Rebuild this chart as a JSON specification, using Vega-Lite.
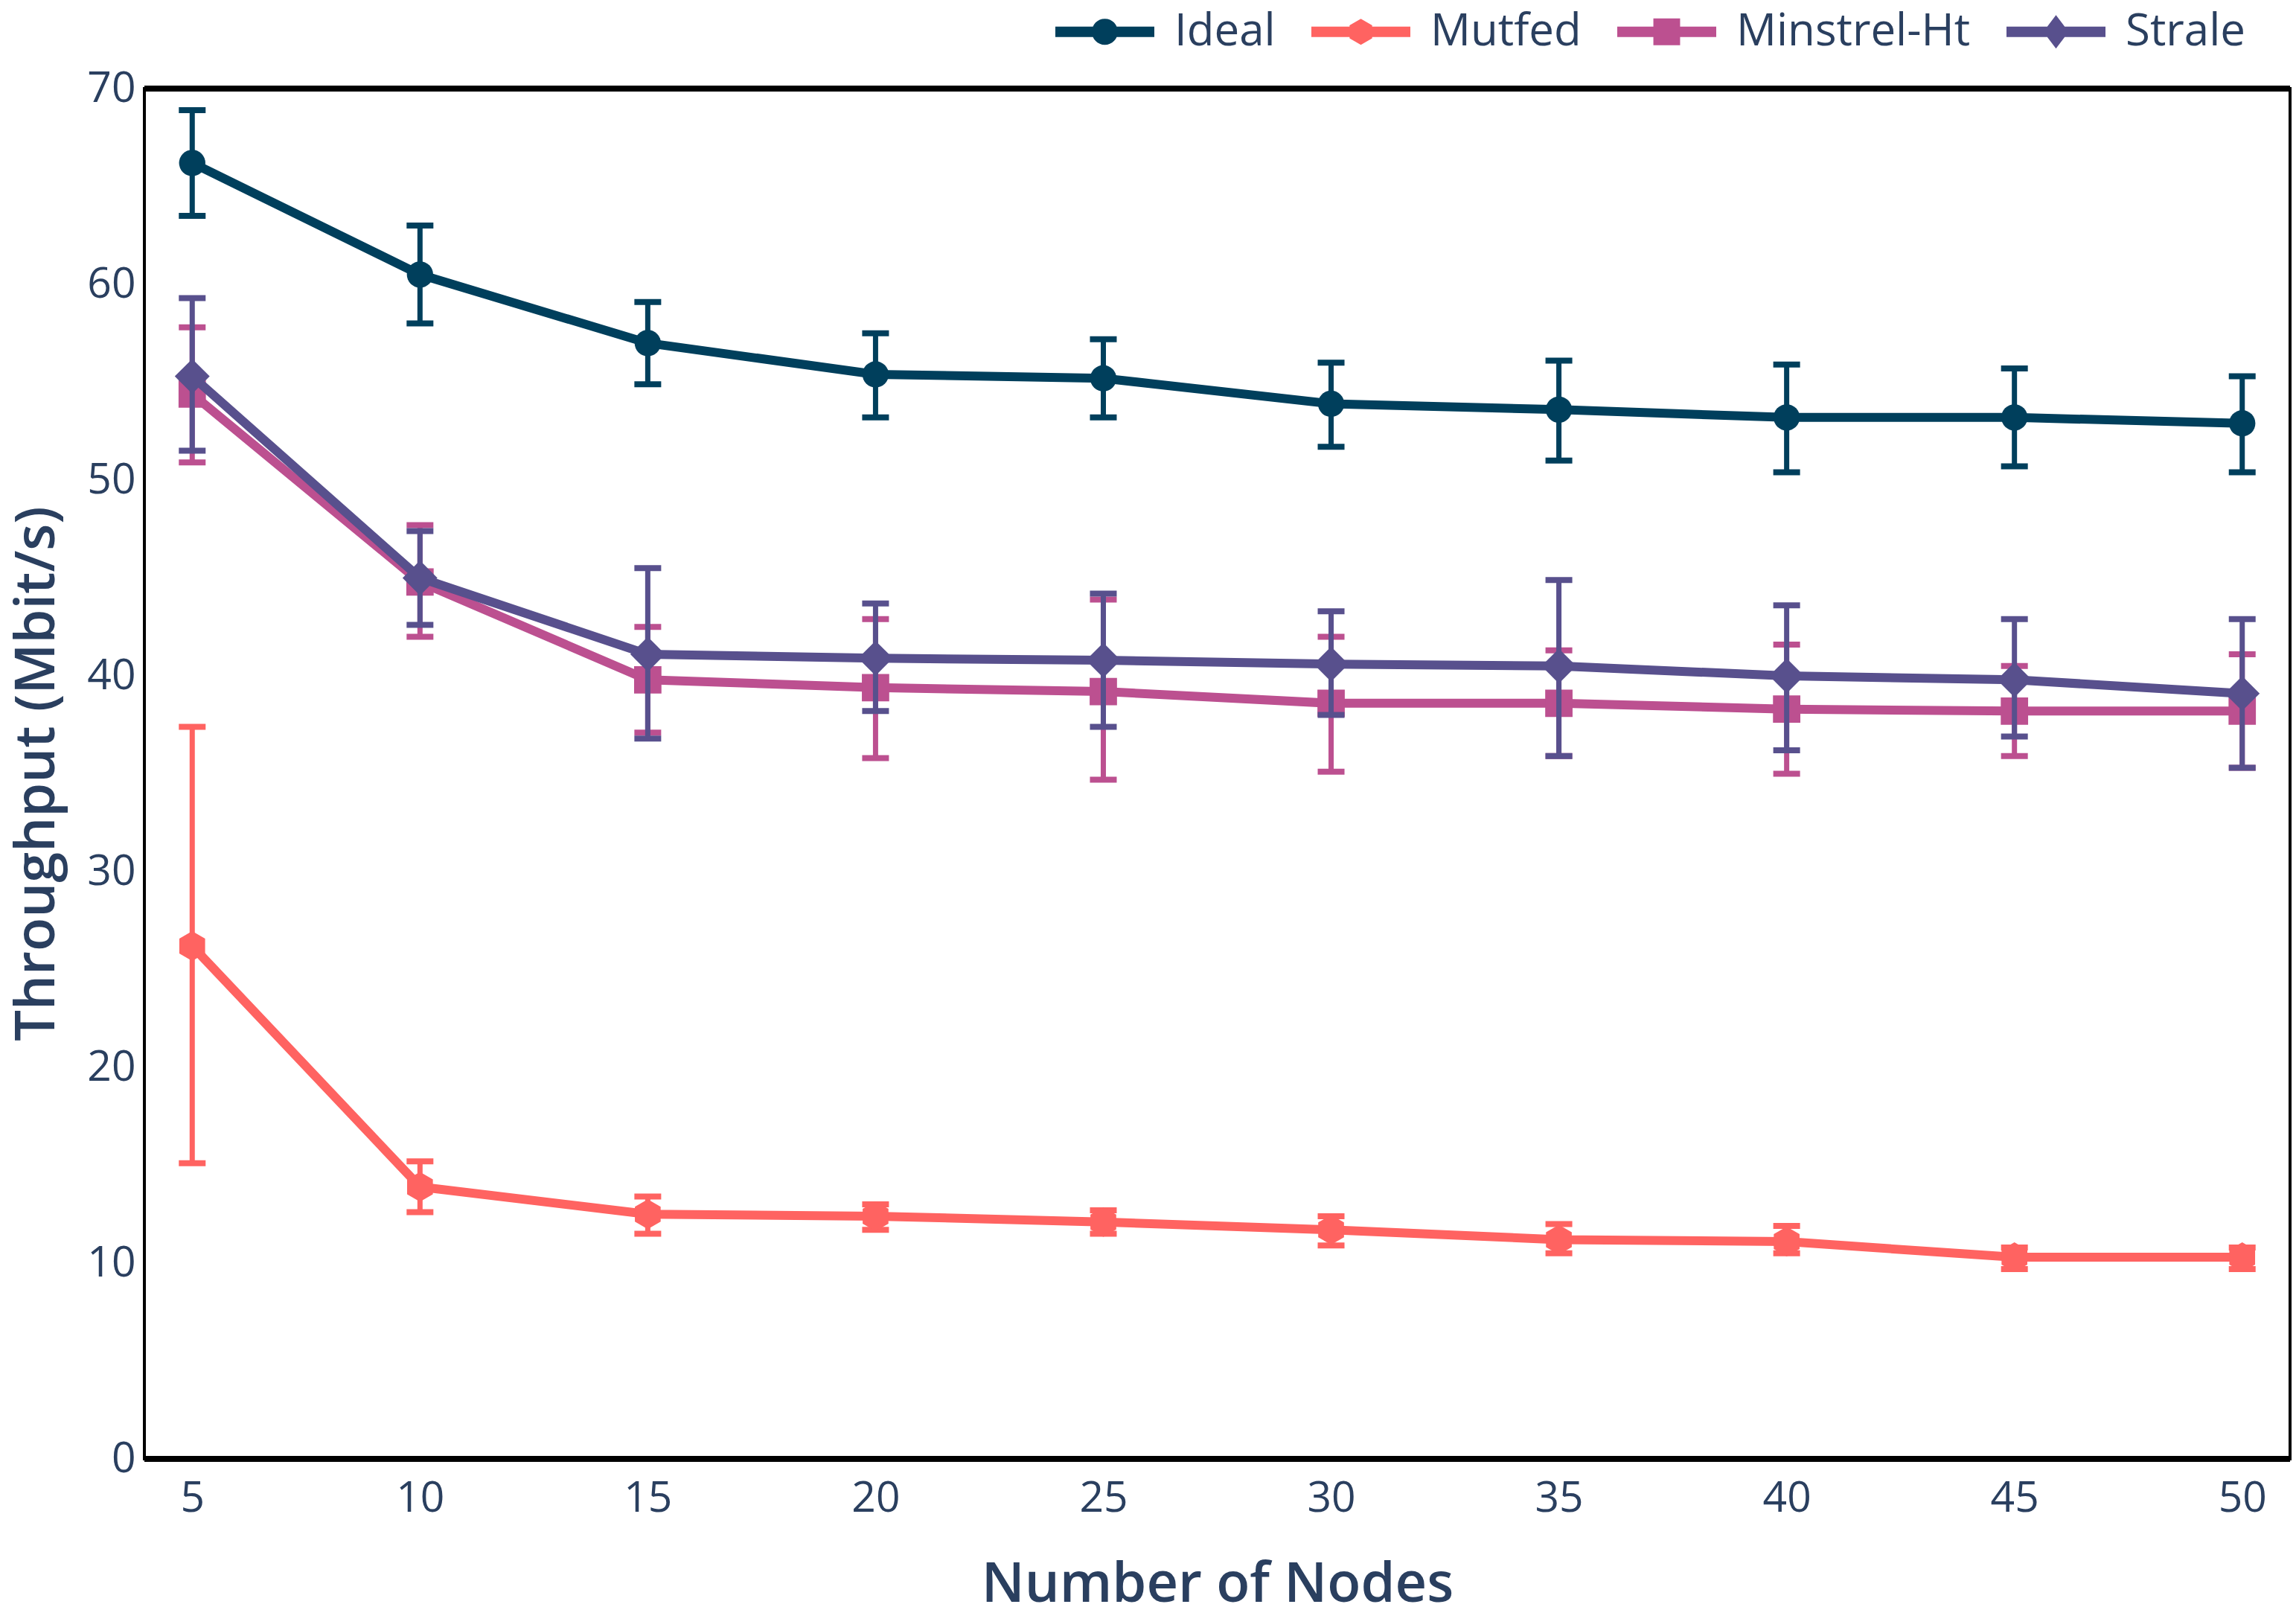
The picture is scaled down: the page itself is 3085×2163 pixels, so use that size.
{
  "$schema": "https://vega.github.io/schema/vega-lite/v6.json",
  "width": 2883,
  "height": 1841,
  "autosize": {"type": "none"},
  "padding": {"left": 194, "top": 119, "right": 8, "bottom": 203},
  "background": "white",
  "config": {
    "view": {"stroke": "black", "strokeWidth": 4},
    "axis": {"grid": false, "ticks": false, "tickSize": 0, "domain": false, "labelFont": "Open Sans", "labelColor": "#2a3f5f", "labelFontSize": 57, "titleFont": "Open Sans", "titleColor": "#2a3f5f", "titleFontSize": 74, "titleFontWeight": 600},
    "legend": {"padding": 0, "offset": 0}
  },
  "data": {"values": [
    {"series": "Ideal", "n": 5, "y": 66.2, "lo": 63.5, "hi": 68.9},
    {"series": "Ideal", "n": 10, "y": 60.5, "lo": 58.0, "hi": 63.0},
    {"series": "Ideal", "n": 15, "y": 57.0, "lo": 54.9, "hi": 59.1},
    {"series": "Ideal", "n": 20, "y": 55.4, "lo": 53.2, "hi": 57.5},
    {"series": "Ideal", "n": 25, "y": 55.2, "lo": 53.2, "hi": 57.2},
    {"series": "Ideal", "n": 30, "y": 53.9, "lo": 51.7, "hi": 56.0},
    {"series": "Ideal", "n": 35, "y": 53.6, "lo": 51.0, "hi": 56.1},
    {"series": "Ideal", "n": 40, "y": 53.2, "lo": 50.4, "hi": 55.9},
    {"series": "Ideal", "n": 45, "y": 53.2, "lo": 50.7, "hi": 55.7},
    {"series": "Ideal", "n": 50, "y": 52.9, "lo": 50.4, "hi": 55.3},
    {"series": "Mutfed", "n": 5, "y": 26.2, "lo": 15.1, "hi": 37.4},
    {"series": "Mutfed", "n": 10, "y": 13.9, "lo": 12.6, "hi": 15.2},
    {"series": "Mutfed", "n": 15, "y": 12.5, "lo": 11.5, "hi": 13.4},
    {"series": "Mutfed", "n": 20, "y": 12.4, "lo": 11.7, "hi": 13.0},
    {"series": "Mutfed", "n": 25, "y": 12.1, "lo": 11.5, "hi": 12.7},
    {"series": "Mutfed", "n": 30, "y": 11.7, "lo": 10.9, "hi": 12.4},
    {"series": "Mutfed", "n": 35, "y": 11.2, "lo": 10.5, "hi": 12.0},
    {"series": "Mutfed", "n": 40, "y": 11.1, "lo": 10.5, "hi": 11.9},
    {"series": "Mutfed", "n": 45, "y": 10.3, "lo": 9.7, "hi": 10.8},
    {"series": "Mutfed", "n": 50, "y": 10.3, "lo": 9.7, "hi": 10.8},
    {"series": "Minstrel-Ht", "n": 5, "y": 54.4, "lo": 50.9, "hi": 57.8},
    {"series": "Minstrel-Ht", "n": 10, "y": 44.8, "lo": 42.0, "hi": 47.7},
    {"series": "Minstrel-Ht", "n": 15, "y": 39.8, "lo": 37.1, "hi": 42.5},
    {"series": "Minstrel-Ht", "n": 20, "y": 39.4, "lo": 35.8, "hi": 42.9},
    {"series": "Minstrel-Ht", "n": 25, "y": 39.2, "lo": 34.7, "hi": 43.9},
    {"series": "Minstrel-Ht", "n": 30, "y": 38.6, "lo": 35.1, "hi": 42.0},
    {"series": "Minstrel-Ht", "n": 35, "y": 38.6, "lo": 35.9, "hi": 41.3},
    {"series": "Minstrel-Ht", "n": 40, "y": 38.3, "lo": 35.0, "hi": 41.6},
    {"series": "Minstrel-Ht", "n": 45, "y": 38.2, "lo": 35.9, "hi": 40.5},
    {"series": "Minstrel-Ht", "n": 50, "y": 38.2, "lo": 35.3, "hi": 41.1},
    {"series": "Strale", "n": 5, "y": 55.3, "lo": 51.5, "hi": 59.3},
    {"series": "Strale", "n": 10, "y": 45.0, "lo": 42.6, "hi": 47.4},
    {"series": "Strale", "n": 15, "y": 41.1, "lo": 36.8, "hi": 45.5},
    {"series": "Strale", "n": 20, "y": 40.9, "lo": 38.2, "hi": 43.7},
    {"series": "Strale", "n": 25, "y": 40.8, "lo": 37.4, "hi": 44.2},
    {"series": "Strale", "n": 30, "y": 40.6, "lo": 38.0, "hi": 43.3},
    {"series": "Strale", "n": 35, "y": 40.5, "lo": 35.9, "hi": 44.9},
    {"series": "Strale", "n": 40, "y": 40.0, "lo": 36.2, "hi": 43.6},
    {"series": "Strale", "n": 45, "y": 39.8, "lo": 36.9, "hi": 42.9},
    {"series": "Strale", "n": 50, "y": 39.1, "lo": 35.3, "hi": 42.9}
  ]},
  "encoding": {
    "color": {"field": "series", "type": "nominal",
      "scale": {"domain": ["Ideal", "Mutfed", "Minstrel-Ht", "Strale"], "range": ["#003f5c", "#ff6361", "#bc5090", "#58508d"]},
      "legend": {"orient": "none", "legendX": 1224, "legendY": -143, "direction": "horizontal", "title": null,
        "symbolSize": 17689, "symbolStrokeWidth": 0, "symbolOpacity": 1, "labelOffset": 27, "columnPadding": 48, "labelLimit": 600, "labelFont": "Open Sans", "labelFontSize": 60, "labelColor": "#2a3f5f"}}
  },
  "layer": [
    {"mark": {"type": "rule", "strokeWidth": 7}, "encoding": {"y": {"datum": 70, "type": "quantitative", "scale": {"domain": [0, 70], "nice": false},
      "axis": {"values": [0, 10, 20, 30, 40, 50, 60, 70], "title": "Throughput (Mbit/s)", "labelPadding": 12, "titleAngle": -90, "titleBaseline": "alphabetic", "titleAlign": "center", "titleX": -122, "titleY": 920}}, "color": {"value": "black"}}},
    {"mark": {"type": "rule", "strokeWidth": 7}, "encoding": {"y": {"datum": 0, "type": "quantitative"}, "color": {"value": "black"}}},
    {"mark": {"type": "point", "filled": true, "opacity": 0},
      "encoding": {
        "x": {"field": "n", "type": "quantitative", "scale": {"domain": [3.95, 51.05], "nice": false, "zero": false},
          "axis": {"values": [5, 10, 15, 20, 25, 30, 35, 40, 45, 50], "format": "d", "title": "Number of Nodes", "labelBaseline": "alphabetic", "labelPadding": 70, "titlePadding": 52}},
        "y": {"field": "y", "type": "quantitative"},
        "shape": {"field": "series", "type": "nominal", "legend": null, "scale": {"domain": ["Ideal", "Mutfed", "Minstrel-Ht", "Strale"],
          "range": ["M-1,-0.105H1V0.105H-1Z M0,-0.263A0.263,0.263 0 1,1 0,0.263A0.263,0.263 0 1,1 0,-0.263Z", "M-1,-0.105H1V0.105H-1Z M0,-0.263L0.228,-0.131L0.228,0.131L0,0.263L-0.228,0.131L-0.228,-0.131Z", "M-1,-0.105H1V0.105H-1Z M-0.27,-0.27H0.27V0.27H-0.27Z", "M-1,-0.105H1V0.105H-1Z M0,-0.338L0.256,0L0,0.338L-0.256,0Z"]}}
      }},
    {
      "transform": [{"filter": "datum.series === 'Ideal'"}],
      "encoding": {"x": {"field": "n", "type": "quantitative"}},
      "layer": [
        {"mark": {"type": "rule", "strokeWidth": 7}, "encoding": {"y": {"field": "lo", "type": "quantitative"}, "y2": {"field": "hi"}}},
        {"mark": {"type": "tick", "orient": "horizontal", "size": 36, "thickness": 8, "opacity": 1}, "encoding": {"y": {"field": "hi", "type": "quantitative"}}},
        {"mark": {"type": "tick", "orient": "horizontal", "size": 36, "thickness": 8, "opacity": 1}, "encoding": {"y": {"field": "lo", "type": "quantitative"}}},
        {"mark": {"type": "line", "strokeWidth": 12}, "encoding": {"y": {"field": "y", "type": "quantitative"}}},
        {"mark": {"type": "point", "filled": true, "opacity": 1, "shape": "circle", "size": 1250}, "encoding": {"y": {"field": "y", "type": "quantitative"}}}
      ]
    },
    {
      "transform": [{"filter": "datum.series === 'Mutfed'"}],
      "encoding": {"x": {"field": "n", "type": "quantitative"}},
      "layer": [
        {"mark": {"type": "rule", "strokeWidth": 7}, "encoding": {"y": {"field": "lo", "type": "quantitative"}, "y2": {"field": "hi"}}},
        {"mark": {"type": "tick", "orient": "horizontal", "size": 36, "thickness": 8, "opacity": 1}, "encoding": {"y": {"field": "hi", "type": "quantitative"}}},
        {"mark": {"type": "tick", "orient": "horizontal", "size": 36, "thickness": 8, "opacity": 1}, "encoding": {"y": {"field": "lo", "type": "quantitative"}}},
        {"mark": {"type": "line", "strokeWidth": 12}, "encoding": {"y": {"field": "y", "type": "quantitative"}}},
        {"mark": {"type": "point", "filled": true, "opacity": 1, "shape": "M0,-1L0.866,-0.5L0.866,0.5L0,1L-0.866,0.5L-0.866,-0.5Z", "size": 1600}, "encoding": {"y": {"field": "y", "type": "quantitative"}}}
      ]
    },
    {
      "transform": [{"filter": "datum.series === 'Minstrel-Ht'"}],
      "encoding": {"x": {"field": "n", "type": "quantitative"}},
      "layer": [
        {"mark": {"type": "rule", "strokeWidth": 7}, "encoding": {"y": {"field": "lo", "type": "quantitative"}, "y2": {"field": "hi"}}},
        {"mark": {"type": "tick", "orient": "horizontal", "size": 36, "thickness": 8, "opacity": 1}, "encoding": {"y": {"field": "hi", "type": "quantitative"}}},
        {"mark": {"type": "tick", "orient": "horizontal", "size": 36, "thickness": 8, "opacity": 1}, "encoding": {"y": {"field": "lo", "type": "quantitative"}}},
        {"mark": {"type": "line", "strokeWidth": 12}, "encoding": {"y": {"field": "y", "type": "quantitative"}}},
        {"mark": {"type": "point", "filled": true, "opacity": 1, "shape": "square", "size": 1350}, "encoding": {"y": {"field": "y", "type": "quantitative"}}}
      ]
    },
    {
      "transform": [{"filter": "datum.series === 'Strale'"}],
      "encoding": {"x": {"field": "n", "type": "quantitative"}},
      "layer": [
        {"mark": {"type": "rule", "strokeWidth": 7}, "encoding": {"y": {"field": "lo", "type": "quantitative"}, "y2": {"field": "hi"}}},
        {"mark": {"type": "tick", "orient": "horizontal", "size": 36, "thickness": 8, "opacity": 1}, "encoding": {"y": {"field": "hi", "type": "quantitative"}}},
        {"mark": {"type": "tick", "orient": "horizontal", "size": 36, "thickness": 8, "opacity": 1}, "encoding": {"y": {"field": "lo", "type": "quantitative"}}},
        {"mark": {"type": "line", "strokeWidth": 12}, "encoding": {"y": {"field": "y", "type": "quantitative"}}},
        {"mark": {"type": "point", "filled": true, "opacity": 1, "shape": "diamond", "size": 2200}, "encoding": {"y": {"field": "y", "type": "quantitative"}}}
      ]
    }
  ]
}
